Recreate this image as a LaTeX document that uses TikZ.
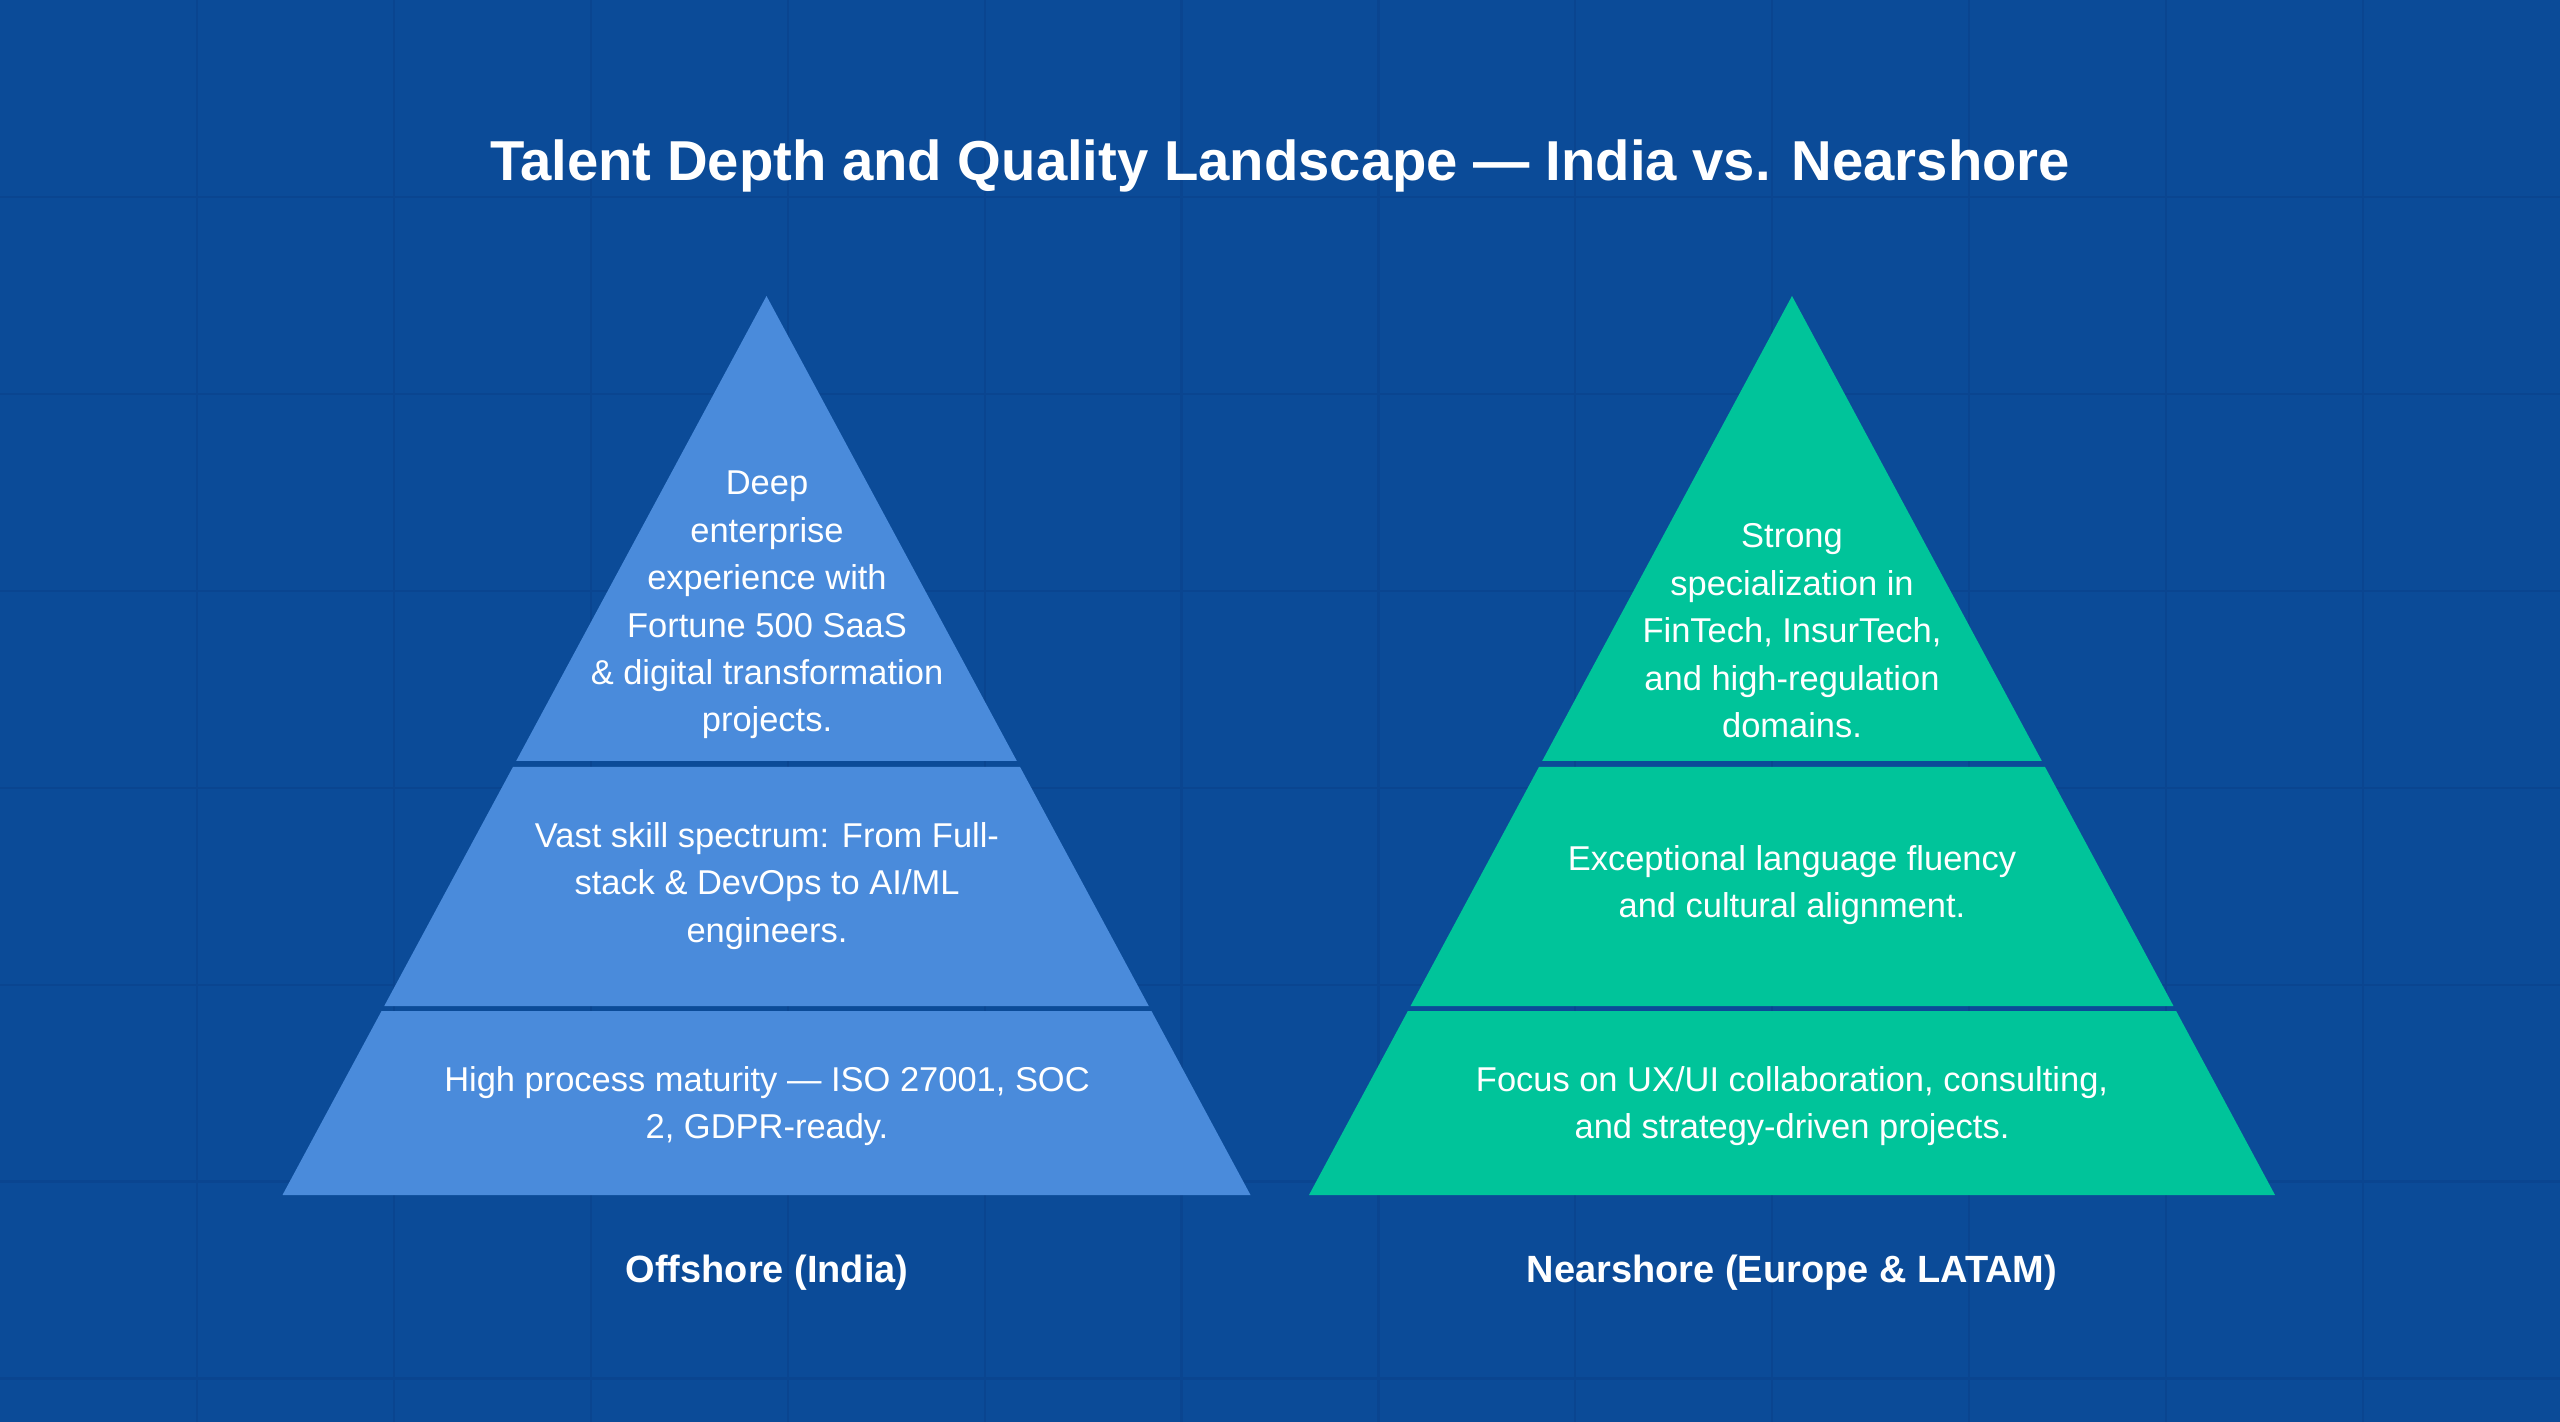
\documentclass[tikz,border=0pt]{standalone}
\usepackage{fontspec}
\setmainfont{Liberation Sans}
\definecolor{bgblue}{HTML}{0B4B98}
\definecolor{gridblue}{HTML}{0A4590}
\definecolor{indiablue}{HTML}{4A8BDB}
\definecolor{nearteal}{HTML}{00C49A}
\newcommand\pyrlayer[5]{%
  \pgfmathsetmacro\pyrwa{(#2/899)*(#3-296)}%
  \pgfmathsetmacro\pyrwb{(#2/899)*(#4-296)}%
  \fill[#5] ({#1-\pyrwa},#3) -- ({#1+\pyrwa},#3) -- ({#1+\pyrwb},#4) -- ({#1-\pyrwb},#4) -- cycle;}
\begin{document}
\begin{tikzpicture}[x=0.01cm,y=-0.01cm,
  bodytext/.style={text=white,align=center,font=\fontsize{9.8}{13.5}\selectfont,inner sep=0pt},
  labeltext/.style={text=white,align=center,font=\fontsize{10.8}{13}\selectfont\bfseries,inner sep=0pt,anchor=base},
  titletext/.style={text=white,font=\fontsize{16}{19}\selectfont\bfseries,inner sep=0pt,anchor=base},
  gridline/.style={draw=gridblue,line width=0.6pt}]
\fill[bgblue] (0,0) rectangle (2560,1422);
\useasboundingbox (0,0) rectangle (2560,1422);
\foreach \k in {1,...,12} {\draw[gridline] ({\k*196.92},0) -- ({\k*196.92},1422);}
\foreach \k in {1,...,7} {\draw[gridline] (0,{\k*196.92}) -- (2560,{\k*196.92});}
% title
\node[titletext] (title) at (1280,181) {Talent Depth and Quality Landscape — India vs. Nearshore};
% left pyramid
\pyrlayer{766.5}{484}{296}{761}{indiablue}
\pyrlayer{766.5}{484}{767}{1006}{indiablue}
\pyrlayer{766.5}{484}{1011}{1195}{indiablue}
% right pyramid
\pyrlayer{1792}{483}{296}{761}{nearteal}
\pyrlayer{1792}{483}{767}{1006}{nearteal}
\pyrlayer{1792}{483}{1011}{1195}{nearteal}
% left texts
\node[bodytext] (l1) at (767,605) {Deep\\enterprise\\experience with\\Fortune 500 SaaS\\\& digital transformation\\projects.};
\node[bodytext] (l2) at (767,886) {Vast skill spectrum: From Full-\\stack \& DevOps to AI/ML\\engineers.};
\node[bodytext] (l3) at (767,1106) {High process maturity — ISO 27001, SOC\\2, GDPR-ready.};
\node[labeltext] (llab) at (767,1282) {Offshore (India)};
% right texts
\node[bodytext] (r1) at (1792,631) {Strong\\specialization in\\FinTech, InsurTech,\\and high-regulation\\domains.};
\node[bodytext] (r2) at (1792,885) {Exceptional language fluency\\and cultural alignment.};
\node[bodytext] (r3) at (1792,1106) {Focus on UX/UI collaboration, consulting,\\and strategy-driven projects.};
\node[labeltext] (rlab) at (1792,1282) {Nearshore (Europe \& LATAM)};
\end{tikzpicture}
\end{document}
